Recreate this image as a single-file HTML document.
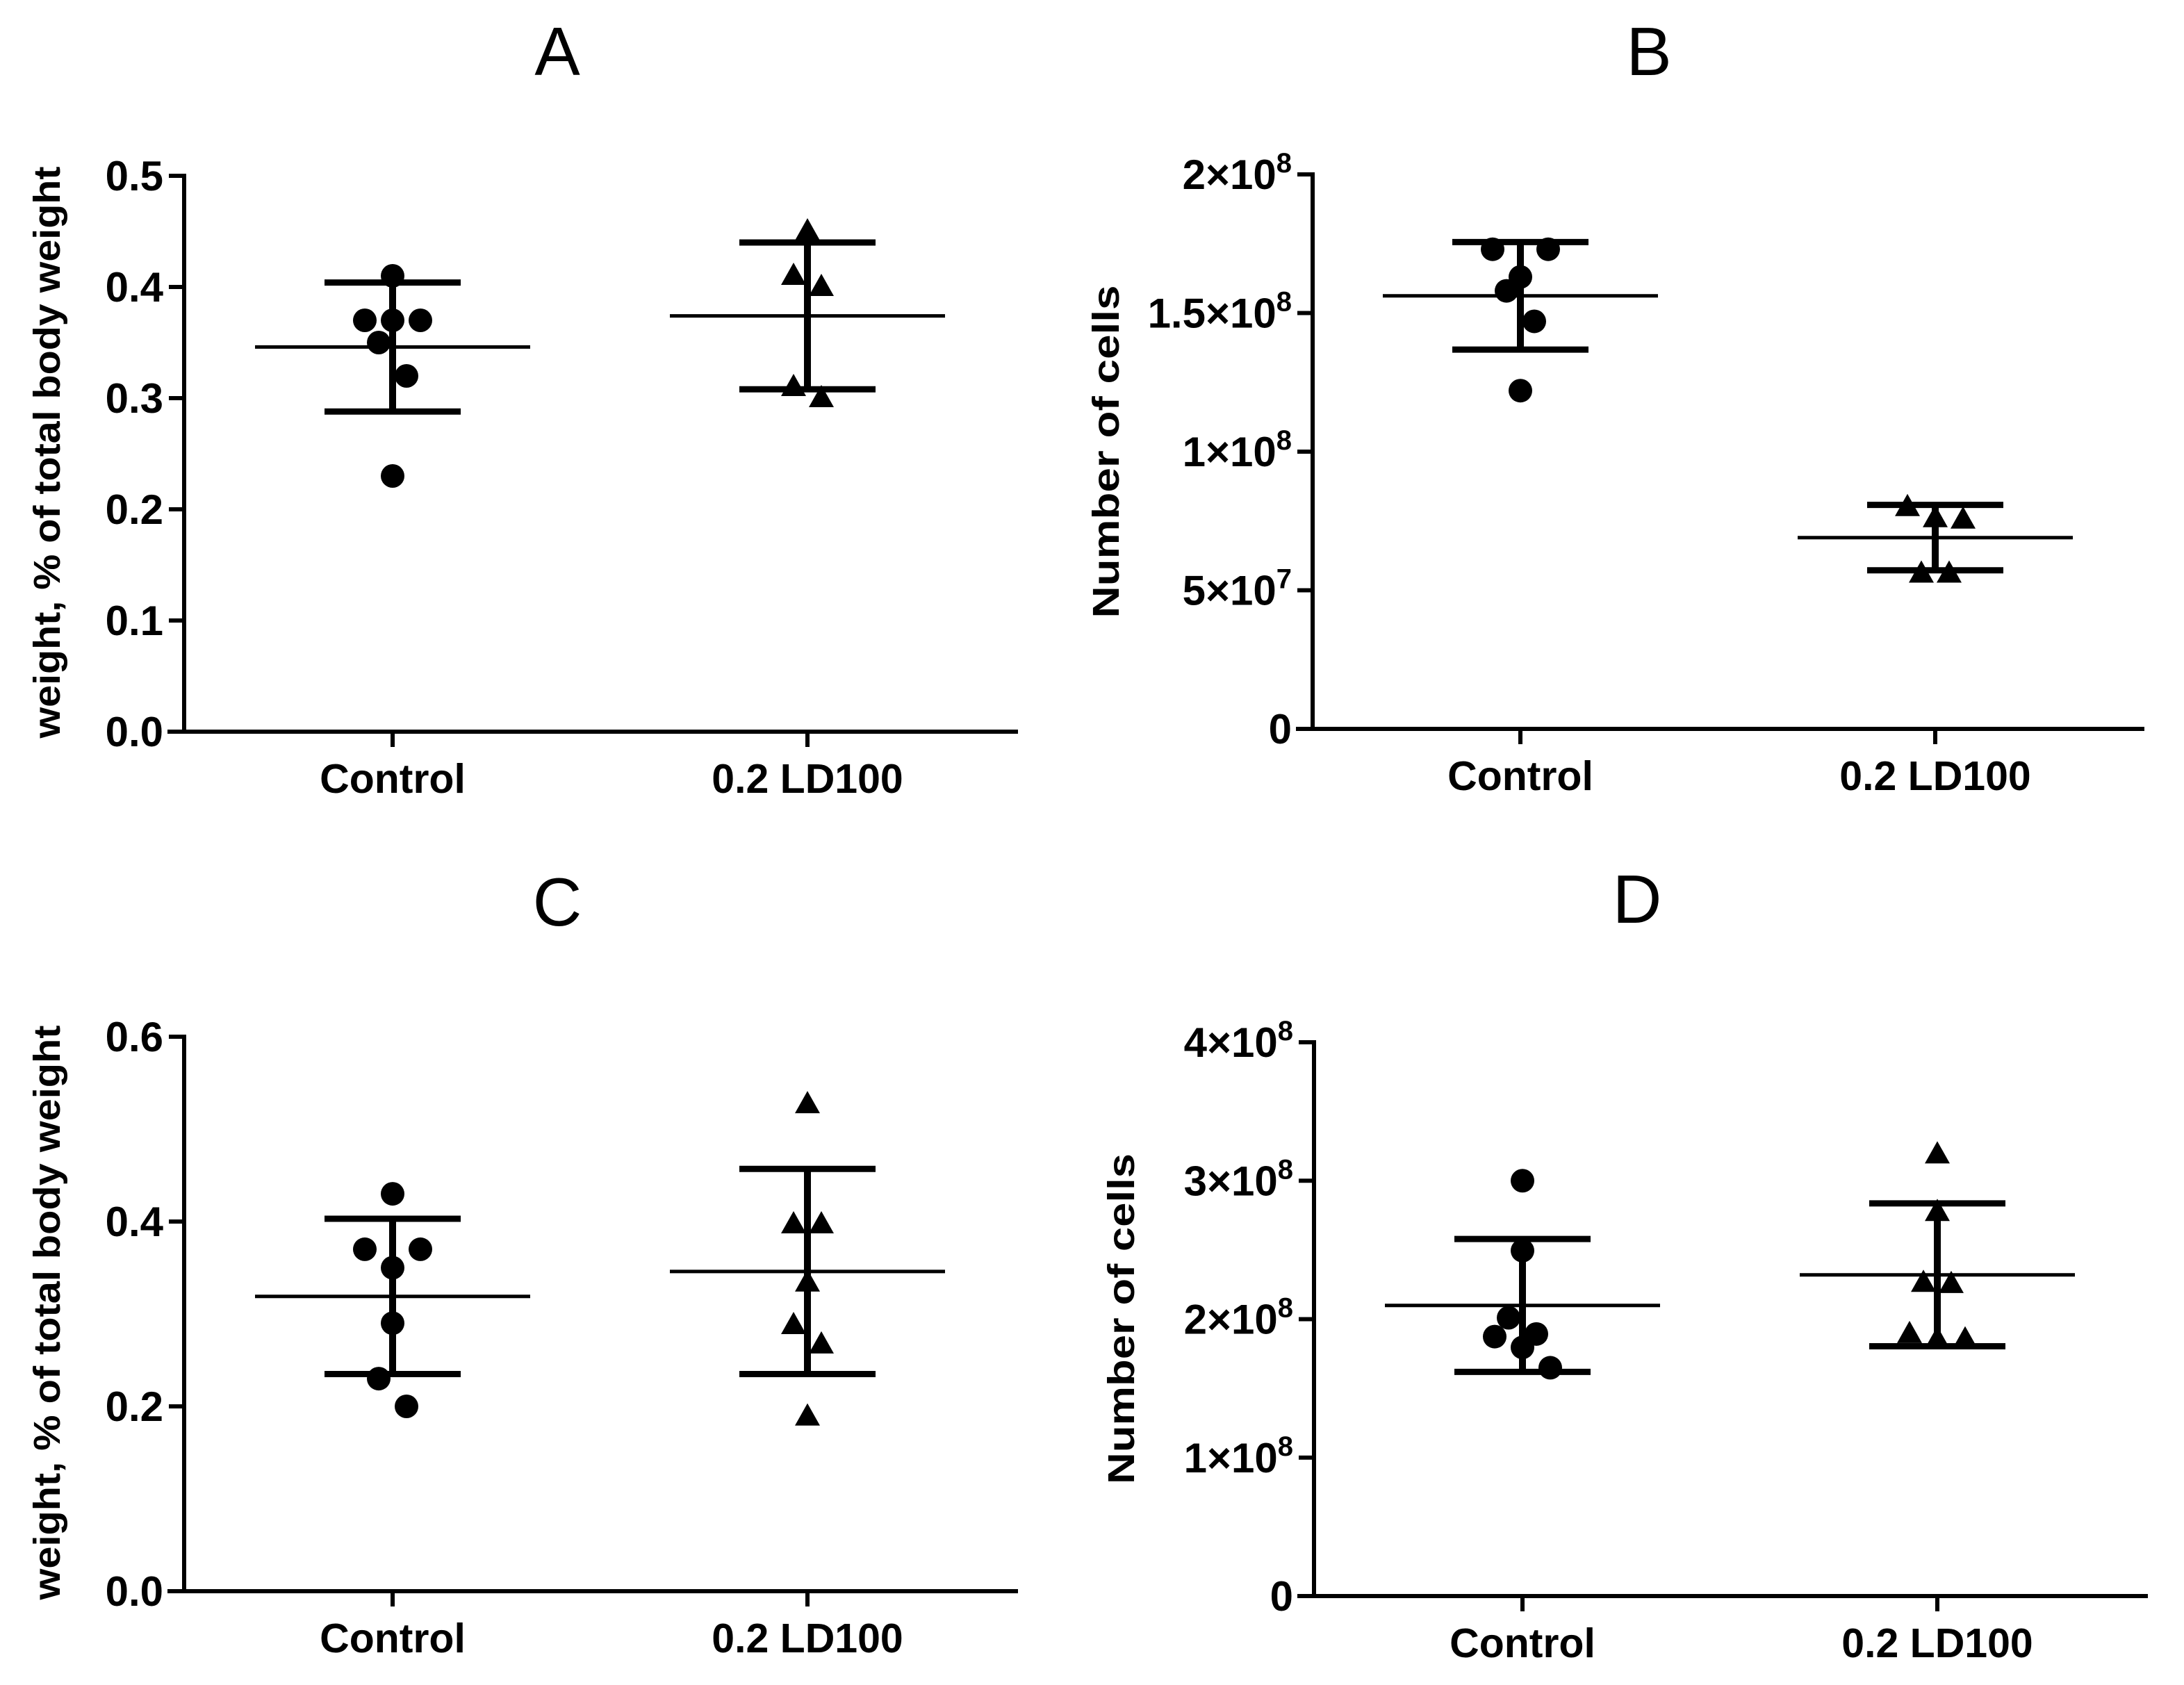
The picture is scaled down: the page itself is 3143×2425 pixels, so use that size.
<!DOCTYPE html>
<html><head><meta charset="utf-8">
<style>
html,body{margin:0;padding:0;background:#fff;}
svg{display:block;font-family:"Liberation Sans",Arial,sans-serif;}
</style></head>
<body>
<svg id="fig" width="3143" height="2425" viewBox="0 0 3143 2425" xmlns="http://www.w3.org/2000/svg">
<rect width="3143" height="2425" fill="#fff"/>
</svg>
<script>
// ---- data ----
const categories = ["Control", "0.2 LD100"];
// Panel A
const aControl = [0.41, 0.37, 0.37, 0.37, 0.35, 0.32, 0.23];
const aLD = [0.45, 0.41, 0.40, 0.31, 0.30];
const aMean = [0.346, 0.374];
const aSD = [0.058, 0.066];
const aTicks = [0, 0.1, 0.2, 0.3, 0.4, 0.5];
const aTickLabels = ["0.0", "0.1", "0.2", "0.3", "0.4", "0.5"];
// Panel B (units of 1e8)
const bControl = [1.73, 1.73, 1.63, 1.58, 1.47, 1.22];
const bLD = [0.80, 0.76, 0.755, 0.56, 0.56];
const bMean = [1.562, 0.69];
const bSD = [0.194, 0.118];
const bTicks = [0, 0.5, 1, 1.5, 2];
const bTickLabels = [["0",""], ["5×10","7"], ["1×10","8"], ["1.5×10","8"], ["2×10","8"]];
// Panel C
const cControl = [0.43, 0.37, 0.37, 0.35, 0.29, 0.23, 0.20];
const cLD = [0.527, 0.397, 0.397, 0.334, 0.288, 0.267, 0.189];
const cMean = [0.319, 0.346];
const cSD = [0.084, 0.111];
const cTicks = [0, 0.2, 0.4, 0.6];
const cTickLabels = ["0.0", "0.2", "0.4", "0.6"];
// Panel D (units of 1e8)
const dControl = [3.0, 2.495, 2.01, 1.874, 1.893, 1.796, 1.649];
const dLD = [3.19, 2.774, 2.262, 2.254, 1.893, 1.854, 1.854];
const dMean = [2.099, 2.32];
const dSD = [0.48, 0.516];
const dTicks = [0, 1, 2, 3, 4];
const dTickLabels = [["0",""], ["1×10","8"], ["2×10","8"], ["3×10","8"], ["4×10","8"]];

// ---- layout: horizontal scatter slots (in 20px steps) ----
const aControlSlot = [0, -2, 0, 2, -1, 1, 0];
const aLDSlot = [0, -1, 1, -1, 1];
const bControlSlot = [-2, 2, 0, -1, 1, 0];
const bLDSlot = [-2, 0, 2, -1, 1];
const cControlSlot = [0, -2, 2, 0, 0, -1, 1];
const cLDSlot = [0, -1, 1, 0, -1, 1, 0];
const dControlSlot = [0, 0, -1, -2, 1, 0, 2];
const dLDSlot = [0, 0, -1, 1, -2, 0, 2];

const NS = "http://www.w3.org/2000/svg";
const svg = document.getElementById("fig");
function mk(tag, attrs, parent) {
  const e = document.createElementNS(NS, tag);
  for (const k in attrs) e.setAttribute(k, attrs[k]);
  (parent || svg).appendChild(e);
  return e;
}

function panel(cfg) {
  const g = mk("g", {});
  
  
  const y = v => cfg.y0 - (v - cfg.min) / (cfg.max - cfg.min) * (cfg.y0 - cfg.y1);
  const xs = [cfg.xc, cfg.xl];

  const title = mk("text", {x: cfg.titleX, y: cfg.titleY, "font-size": 98, "text-anchor": "middle", fill: "#000"}, g);
  title.textContent = cfg.letter;
  
  

  const yax = mk("line", {x1: cfg.ax, x2: cfg.ax, y1: cfg.y1 - 3, y2: cfg.y0 + 3, stroke: "#000", "stroke-width": 6}, g);
  
  
  const xax = mk("line", {x1: cfg.ax - 24, x2: cfg.xEnd, y1: cfg.y0, y2: cfg.y0, stroke: "#000", "stroke-width": 6}, g);
  
  

  cfg.ticks.forEach((t, i) => {
    const ty = y(t);
    const tk = mk("line", {x1: cfg.ax - 22, x2: cfg.ax, y1: ty, y2: ty, stroke: "#000", "stroke-width": 6}, g);
    
    
    const lab = cfg.labels[i];
    const tx = mk("text", {x: cfg.ax - 30, y: ty + 21, "font-size": 60, "font-weight": "bold", "text-anchor": "end", fill: "#000"}, g);
    
    
    if (Array.isArray(lab)) {
      if (lab[1]) {
        const t1 = mk("tspan", {}, tx); t1.textContent = lab[0];
        const t2 = mk("tspan", {"font-size": 40, dy: -24}, tx); t2.textContent = lab[1];
      } else tx.textContent = lab[0];
    } else tx.textContent = lab;
  });

  categories.forEach((c, i) => {
    const tk = mk("line", {x1: xs[i], x2: xs[i], y1: cfg.y0, y2: cfg.y0 + 22, stroke: "#000", "stroke-width": 6}, g);
    
    
    const tx = mk("text", {x: xs[i], y: cfg.y0 + 88, "font-size": 59, "font-weight": "bold", "text-anchor": "middle", fill: "#000"}, g);
    tx.textContent = c;
    
    
  });

  const yt = mk("text", {x: 0, y: 0, "font-size": 54, "font-weight": "bold", "text-anchor": "middle", fill: "#000",
    textLength: cfg.ytLen, lengthAdjust: "spacingAndGlyphs",
    transform: `translate(${cfg.ytX},${cfg.ytY}) rotate(-90)`}, g);
  yt.textContent = cfg.ytitle;
  
  

  [[cfg.cVals, cfg.cSlot], [cfg.lVals, cfg.lSlot]].forEach(([vals, slots], gi) => {
    vals.forEach((v, i) => {
      const px = xs[gi] + (slots[i] || 0) * 20, py = y(v);
      let m;
      if (gi === 0) {
        m = mk("circle", {cx: px, cy: py, r: 17, fill: "#000"}, g);
        
      } else {
        m = mk("polygon", {points: `${px},${py - 19} ${px - 18},${py + 13} ${px + 18},${py + 13}`, fill: "#000"}, g);
        
      }
      
    });
  });

  xs.forEach((x, i) => {
    const m = cfg.mean[i], s = cfg.sd[i];
    const ml = mk("line", {x1: x - 198, x2: x + 198, y1: y(m), y2: y(m), stroke: "#000", "stroke-width": 5}, g);
    
    
    const vl = mk("line", {x1: x, x2: x, y1: y(m + s), y2: y(m - s), stroke: "#000", "stroke-width": 10}, g);
    
    
    [m + s, m - s].forEach(v => {
      const cap = mk("line", {x1: x - 98, x2: x + 98, y1: y(v), y2: y(v), stroke: "#000", "stroke-width": 9}, g);
      
      
    });
  });
}

panel({name: "panel-a", letter: "A", titleX: 802, titleY: 108, ax: 265, xc: 565, xl: 1162, xEnd: 1465,
  y0: 1053, y1: 253, min: 0, max: 0.5, ticks: aTicks, labels: aTickLabels,
  cVals: aControl, lVals: aLD, cSlot: aControlSlot, lSlot: aLDSlot, mean: aMean, sd: aSD,
  ytitle: "weight, % of total body weight", ytX: 86, ytY: 651, ytLen: 823});
panel({name: "panel-b", letter: "B", titleX: 2373, titleY: 108, ax: 1889, xc: 2188, xl: 2785, xEnd: 3086,
  y0: 1049, y1: 251, min: 0, max: 2, ticks: bTicks, labels: bTickLabels,
  cVals: bControl, lVals: bLD, cSlot: bControlSlot, lSlot: bLDSlot, mean: bMean, sd: bSD,
  ytitle: "Number of cells", ytX: 1610, ytY: 650, ytLen: 479});
panel({name: "panel-c", letter: "C", titleX: 802, titleY: 1332, ax: 265, xc: 565, xl: 1162, xEnd: 1465,
  y0: 2290, y1: 1492, min: 0, max: 0.6, ticks: cTicks, labels: cTickLabels,
  cVals: cControl, lVals: cLD, cSlot: cControlSlot, lSlot: cLDSlot, mean: cMean, sd: cSD,
  ytitle: "weight, % of total body weight", ytX: 86, ytY: 1889, ytLen: 827});
panel({name: "panel-d", letter: "D", titleX: 2356, titleY: 1328, ax: 1891, xc: 2191, xl: 2788, xEnd: 3091,
  y0: 2297, y1: 1500, min: 0, max: 4, ticks: dTicks, labels: dTickLabels,
  cVals: dControl, lVals: dLD, cSlot: dControlSlot, lSlot: dLDSlot, mean: dMean, sd: dSD,
  ytitle: "Number of cells", ytX: 1632, ytY: 1898, ytLen: 476});
</script>
</body></html>
